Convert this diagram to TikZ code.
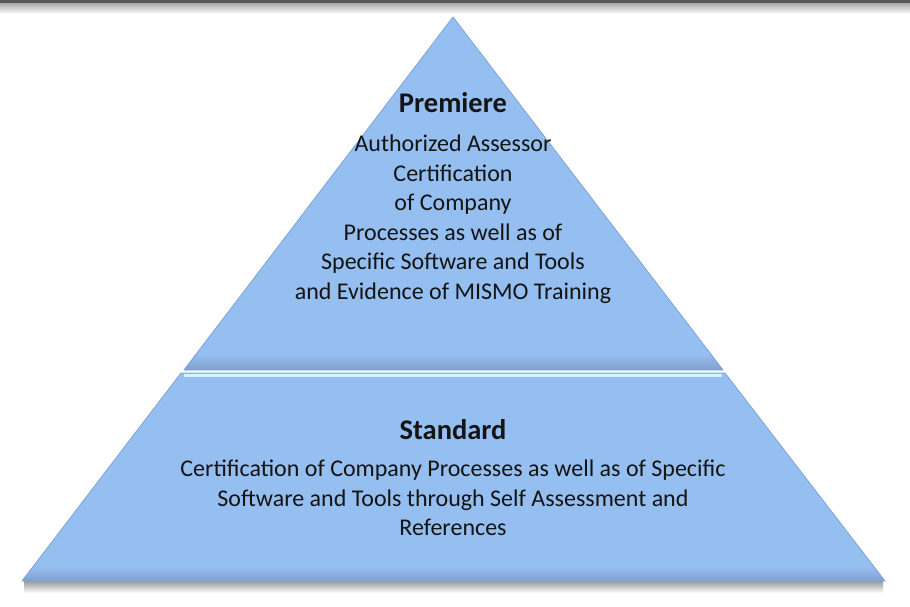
\documentclass[tikz,border=0pt]{standalone}
\usepackage{fontspec}
\setmainfont{Carlito}
\usetikzlibrary{calc}
\definecolor{pyrfill}{HTML}{96BFF1}
\definecolor{pyrdark}{HTML}{7F9FCB}
\definecolor{pyredge}{HTML}{7EA4D4}
\definecolor{pyrlight}{HTML}{D2F3FF}
\definecolor{txtc}{HTML}{141414}
\tikzset{
  title/.style={font=\fontsize{28.5}{32}\selectfont\bfseries, text=txtc, inner sep=0pt},
  body/.style={font=\fontsize{24}{29.5}\selectfont, text=txtc, align=center, inner sep=0pt},
  tier/.style={fill=pyrfill, draw=pyredge, line width=0.8pt, line join=round}
}
\begin{document}
\begin{tikzpicture}[x=1pt,y=-1pt]
\useasboundingbox (0,0) rectangle (910,606);
\fill[white] (0,0) rectangle (910,606);
% top border of the slide
\shade[top color=black!35, bottom color=white] (0,2.5) rectangle (910,14);
\fill[black!65] (0,0) rectangle (910,2.5);
% shadow beneath the base
\shade[top color=black!40, bottom color=white] (24,581) rectangle (883,593);
% coordinates of the pyramid
\coordinate (apex) at (453,17);
\coordinate (tl) at (184,370);
\coordinate (tr) at (723,370);
\coordinate (bl0) at (181,373);
\coordinate (br0) at (725,373);
\coordinate (bl) at (22,581);
\coordinate (br) at (885,581);
% top tier
\begin{scope}
  \clip (apex) -- (tr) -- (tl) -- cycle;
  \fill[pyrfill] (0,0) rectangle (910,370);
  \shade[top color=pyrfill, bottom color=pyrdark] (0,354) rectangle (910,370);
\end{scope}
\draw[draw=pyredge, line width=0.8pt, line join=round] (apex) -- (tr) -- (tl) -- cycle;
% bottom tier
\begin{scope}
  \clip (bl0) -- (br0) -- (br) -- (bl) -- cycle;
  \fill[pyrfill] (0,370) rectangle (910,590);
  \shade[top color=pyrfill, bottom color=pyrdark] (0,566) rectangle (910,582);
\end{scope}
\draw[draw=pyredge, line width=0.8pt, line join=round] (bl0) -- (br0) -- (br) -- (bl) -- cycle;
\draw[pyrlight, line width=2.2pt] ($(bl0)+(3,2.5)$) -- ($(br0)+(-3,2.5)$);
% texts
\node[title] (ptitle) at (453,103) {Premiere};
\node[body] (pbody) at (453,219) {Authorized Assessor\\Certification\\of Company\\Processes as well as of\\Specific Software and Tools\\and Evidence of MISMO Training};
\node[title] (stitle) at (453,430) {Standard};
\node[body] (sbody) at (453,498) {Certification of Company Processes as well as of Specific\\Software and Tools through Self Assessment and\\References};
\end{tikzpicture}
\end{document}
